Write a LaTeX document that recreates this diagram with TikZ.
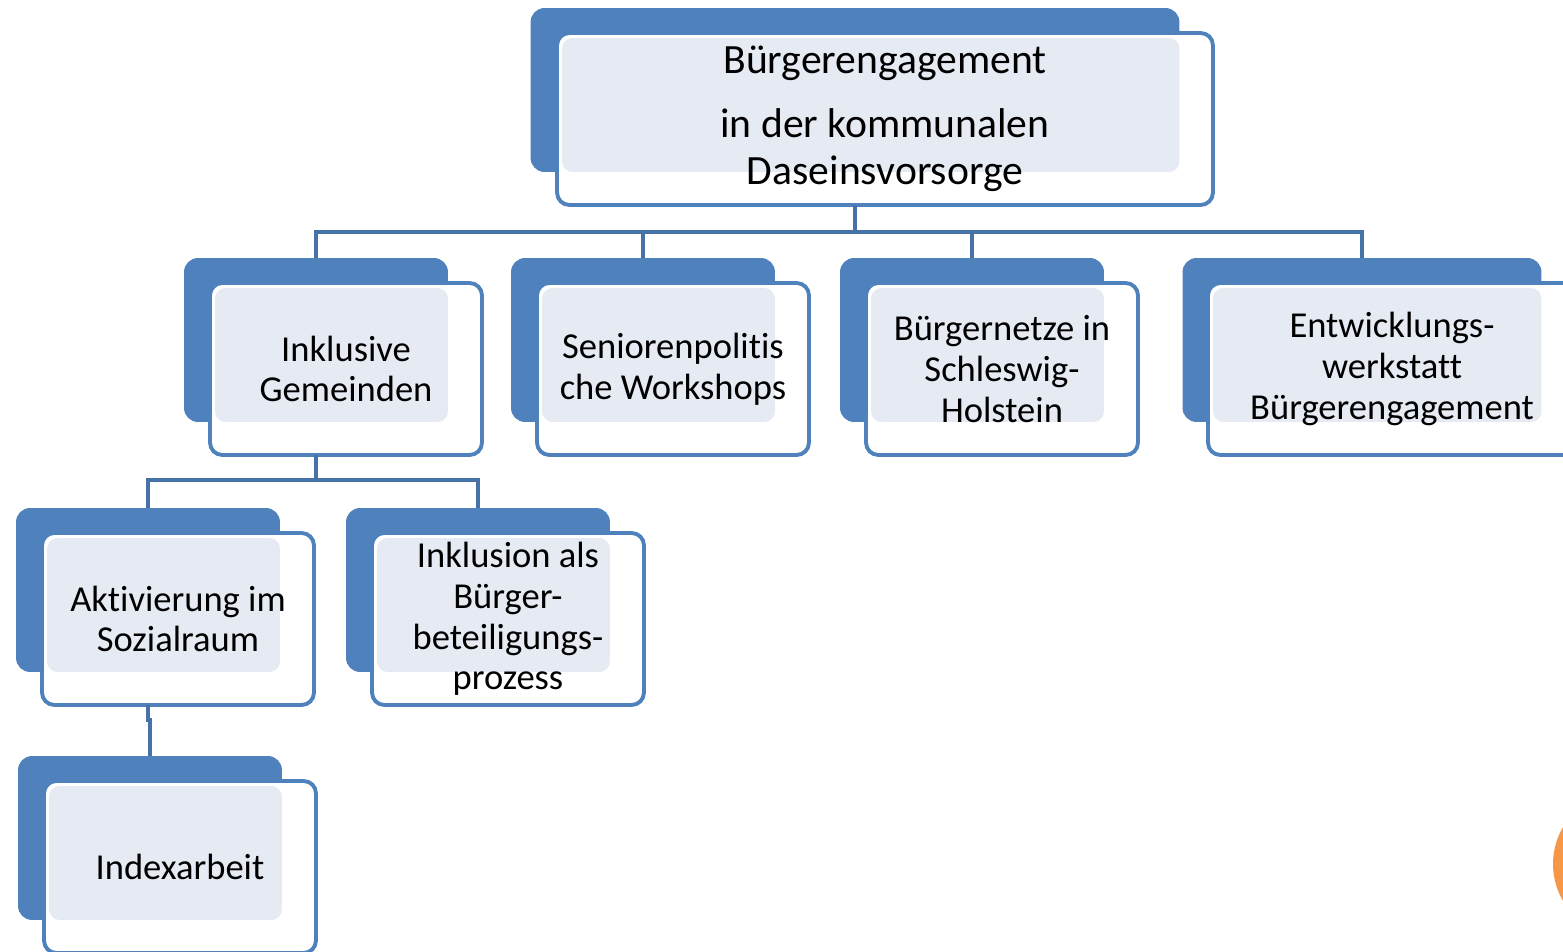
\documentclass[tikz,border=0pt]{standalone}
\usepackage{fontspec}
\setmainfont{Carlito}[Ligatures=NoCommon]
\usepackage{tikz}
\usetikzlibrary{calc}
\definecolor{boxblue}{HTML}{4F81BD}
\definecolor{linkblue}{HTML}{4672A8}
\definecolor{dotfill}{HTML}{E6EBF3}
\definecolor{accent}{HTML}{F79646}
\tikzset{
  backbox/.style={fill=boxblue, rounded corners=8pt, inner sep=0pt, outer sep=0pt, minimum height=3.28cm},
  frontbox/.style={draw=boxblue, line width=2.2pt, fill=white, rounded corners=7pt,
    inner sep=0pt, outer sep=0pt, minimum height=3.44cm, align=center,
    xshift=0.6cm, yshift=-0.58cm, font=\fontsize{20.8}{23.2}\selectfont,
    path picture={\fill[dotfill, rounded corners=6pt]
      ($(path picture bounding box.north west)+(0.1cm,-0.1cm)$) rectangle (#1.south east);}},
  link/.style={draw=linkblue, line width=2.3pt},
}

\begin{document}
\begin{tikzpicture}[x=0.02cm, y=-0.02cm]
\useasboundingbox (0,0) rectangle (1563,952);
\clip (0,0) rectangle (1563,952);

% top
\node[backbox, minimum width=12.98cm] (buerg) at (855,90) {};
\node[frontbox=buerg, minimum width=13.12cm, font=\fontsize{23.7}{26.6}\selectfont] (buergtxt) at (buerg)
  {Bürgerengagement\\[10pt]in der kommunalen\\Daseinsvorsorge};

% second row
\node[backbox, minimum width=5.28cm] (inkl) at (316,340) {};
\node[frontbox=inkl, minimum width=5.44cm] (inkltxt) at (inkl) {Inklusive\\Gemeinden};
\node[backbox, minimum width=5.28cm] (senior) at (643,340) {};
\node[frontbox=senior, minimum width=5.44cm] (seniortxt) at (senior) {Seniorenpolitis\\che Workshops};
\node[backbox, minimum width=5.28cm] (netze) at (972,340) {};
\node[frontbox=netze, minimum width=5.44cm] (netzetxt) at (netze) {Bürgernetze in\\Schleswig-\\Holstein};
\node[backbox, minimum width=7.18cm] (werk) at (1362,340) {};
\node[frontbox=werk, minimum width=7.36cm] (werktxt) at (werk) {Entwicklungs-\\werkstatt\\Bürgerengagement};

% third row
\node[backbox, minimum width=5.28cm] (aktiv) at (148,590) {};
\node[frontbox=aktiv, minimum width=5.44cm] (aktivtxt) at (aktiv) {Aktivierung im\\Sozialraum};
\node[backbox, minimum width=5.28cm] (beteil) at (478,590) {};
\node[frontbox=beteil, minimum width=5.44cm] (beteiltxt) at (beteil) {Inklusion als\\Bürger-\\beteiligungs-\\prozess};

% fourth row
\node[backbox, minimum width=5.28cm] (index) at (150,838) {};
\node[frontbox=index, minimum width=5.44cm] (indextxt) at (index) {Indexarbeit};

% connectors
\coordinate (bar1) at ($(buerg |- buergtxt.south)+(0,27)$);
\draw[link] (buerg |- buergtxt.south) -- (bar1);
\draw[link] (bar1) -| (inkl.north);
\draw[link] (bar1) -| (senior.north);
\draw[link] (bar1) -| (netze.north);
\draw[link] (bar1) -| (werk.north);
\coordinate (bar2) at ($(inkl |- inkltxt.south)+(0,25)$);
\draw[link] (inkl |- inkltxt.south) -- (bar2);
\draw[link] (bar2) -| (aktiv.north);
\draw[link] (bar2) -| (beteil.north);
\draw[link] (aktiv |- aktivtxt.south) -- ++(0,15) -| (index.north);

\fill[accent] (1626,864) circle[radius=1.46cm];
\end{tikzpicture}
\end{document}
